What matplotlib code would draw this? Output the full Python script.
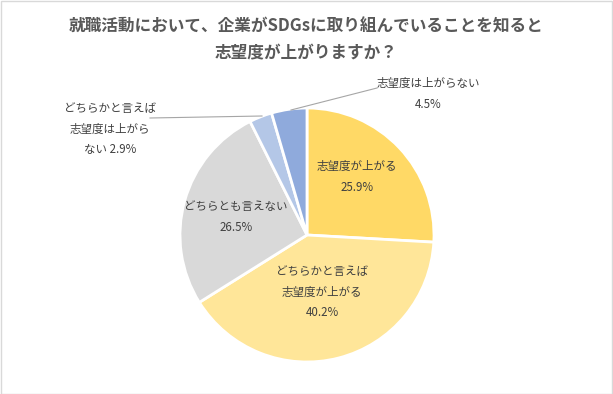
import matplotlib
matplotlib.use("Agg")
import matplotlib.pyplot as plt
from matplotlib.patches import Rectangle

plt.rcParams['font.family'] = ['Noto Sans CJK JP', 'DejaVu Sans']

title = "就職活動において、企業がSDGsに取り組んでいることを知ると\n志望度が上がりますか？"
categories = ["志望度が上がる", "どちらかと言えば\n志望度が上がる", "どちらとも言えない",
              "どちらかと言えば\n志望度は上がら\nない", "志望度は上がらない"]
values = [25.9, 40.2, 26.5, 2.9, 4.5]
colors = ["#FFD966", "#FFE699", "#D9D9D9", "#B4C7E7", "#8FAADC"]

W, H = 613, 394
fig = plt.figure(figsize=(W / 100, H / 100), dpi=100)
ax = fig.add_axes([0, 0, 1, 1])
ax.set_xlim(0, W)
ax.set_ylim(0, H)
ax.set_aspect('equal')
ax.axis('off')

cx, cy, r = 307, H - 235, 127
wedges, _ = ax.pie(values, colors=colors, startangle=90, counterclock=False,
                   center=(cx, cy), radius=r,
                   wedgeprops=dict(edgecolor='white', linewidth=2))
ax.set_xlim(0, W)
ax.set_ylim(0, H)

# border
fig.patches.append(Rectangle((0.5 / W, 0.5 / H), 1 - 1.5 / W, 1 - 1.5 / H,
                             transform=fig.transFigure, fill=False,
                             edgecolor='#D9D9D9', linewidth=1))

fig.text(0.5, 1 - 40 / H, title, ha='center', va='center', fontsize=12,
         fontweight='bold', color='#595959', linespacing=1.6)

tc = '#404040'
fs = 8.3
# inside labels (pixel positions, top-origin)
inside = [(0, 357, 177), (1, 322, 292), (2, 236, 217)]
for i, x, y in inside:
    ax.text(x, H - y, f"{categories[i]}\n{values[i]}%", ha='center', va='center',
            fontsize=fs, color=tc, linespacing=1.75)

# outside labels with leader lines
ax.text(428, H - 94, f"{categories[4]}\n{values[4]}%", ha='center', va='center',
        fontsize=fs, color=tc, linespacing=1.75)
ax.plot([291, 377], [H - 110, H - 88], color='#A6A6A6', lw=0.8)

ax.text(110, H - 129, f"{categories[3]} {values[3]}%", ha='center', va='center',
        fontsize=fs, color=tc, linespacing=1.75)
ax.plot([150, 262], [H - 118, H - 116], color='#A6A6A6', lw=0.8)

fig.savefig("out.png", dpi=100)
